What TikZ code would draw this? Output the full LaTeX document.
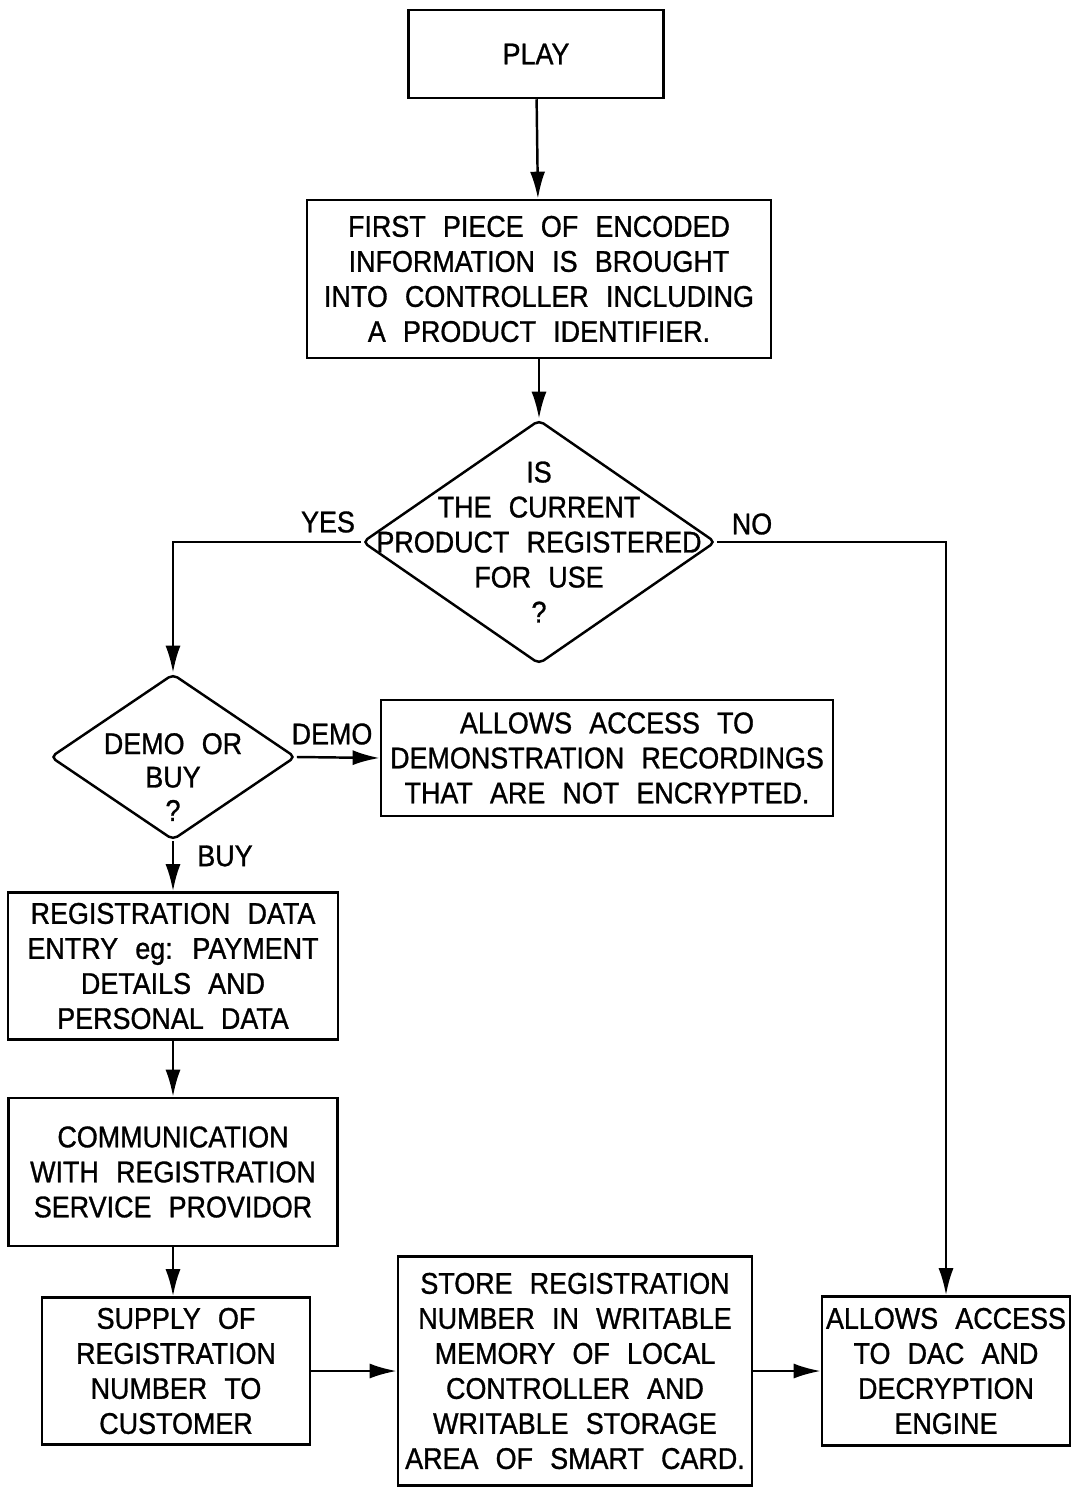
\documentclass[tikz,border=0pt]{standalone}
\usepackage{fontspec}
\setmainfont{Liberation Sans}[FakeStretch=0.9,WordSpace=2.3,FakeBold=1]
\usetikzlibrary{shapes.geometric,arrows.meta}
\tikzset{
  stepbox/.style={draw,line width=0.7pt,align=center,inner sep=0pt},
  askbox/.style={draw,diamond,line width=0.7pt,inner sep=0pt,rounded corners=1.5pt},
  asktext/.style={label={[align=center]center:#1}},
  flow/.style={line width=0.7pt,-{Latex[length=0.27cm,width=0.15cm]}},
  tag/.style={inner sep=0pt}
}
\begin{document}
\begin{tikzpicture}[x=0.01cm,y=-0.01cm,font=\fontsize{8.5}{9.96}\selectfont]
\useasboundingbox (0,0) rectangle (1073,1488);
\node[stepbox,minimum width=2.55cm,minimum height=0.88cm] (play) at (536,54) {PLAY};
\node[stepbox,minimum width=4.64cm,minimum height=1.58cm] (first) at (539,279) {FIRST PIECE OF ENCODED\\INFORMATION IS BROUGHT\\INTO CONTROLLER INCLUDING\\A PRODUCT IDENTIFIER.};
\node[askbox,minimum width=3.53cm,minimum height=2.44cm,
  asktext={IS\\THE CURRENT\\PRODUCT REGISTERED\\FOR USE\\?}] (isreg) at (539,542) {};
\node[askbox,minimum width=2.45cm,minimum height=1.66cm,
  label={[align=center,yshift=-0.2cm,font=\fontsize{8.5}{9.5}\selectfont]center:DEMO OR\\BUY\\?}] (demobuy) at (173,757) {};
\node[stepbox,minimum width=4.52cm,minimum height=1.16cm] (demobox) at (607,758) {ALLOWS ACCESS TO\\DEMONSTRATION RECORDINGS\\THAT ARE NOT ENCRYPTED.};
\node[stepbox,minimum width=3.30cm,minimum height=1.47cm] (regdata) at (173,966) {REGISTRATION DATA\\ENTRY eg: PAYMENT\\DETAILS AND\\PERSONAL DATA};
\node[stepbox,minimum width=3.29cm,minimum height=1.48cm] (comm) at (173,1172) {COMMUNICATION\\WITH REGISTRATION\\SERVICE PROVIDOR};
\node[stepbox,minimum width=2.68cm,minimum height=1.47cm] (supply) at (176,1371) {SUPPLY OF\\REGISTRATION\\NUMBER TO\\CUSTOMER};
\node[stepbox,minimum width=3.54cm,minimum height=2.29cm] (store) at (575,1371) {STORE REGISTRATION\\NUMBER IN WRITABLE\\MEMORY OF LOCAL\\CONTROLLER AND\\WRITABLE STORAGE\\AREA OF SMART CARD.};
\node[stepbox,minimum width=2.48cm,minimum height=1.49cm] (dac) at (946,1371) {ALLOWS ACCESS\\TO DAC AND\\DECRYPTION\\ENGINE};
\node[tag] (yes) at (328,522) {YES};
\node[tag] (no) at (752,524) {NO};
\node[tag] (demo) at (332,734) {DEMO};
\node[tag] (buy) at (225,856) {BUY};
\draw[flow] (play) -- (first);
\draw[flow] (first) -- (isreg);
\draw[flow] (isreg.west) -| (demobuy.north);
\draw[flow] (isreg.east) -| (dac.north);
\draw[flow] (demobuy.east) -- (demobox.west);
\draw[flow] (demobuy.south) -- (regdata.north);
\draw[flow] (regdata) -- (comm);
\draw[flow] (comm.south) -- (comm.south |- supply.north);
\draw[flow] (supply) -- (store);
\draw[flow] (store) -- (dac);
\end{tikzpicture}
\end{document}
